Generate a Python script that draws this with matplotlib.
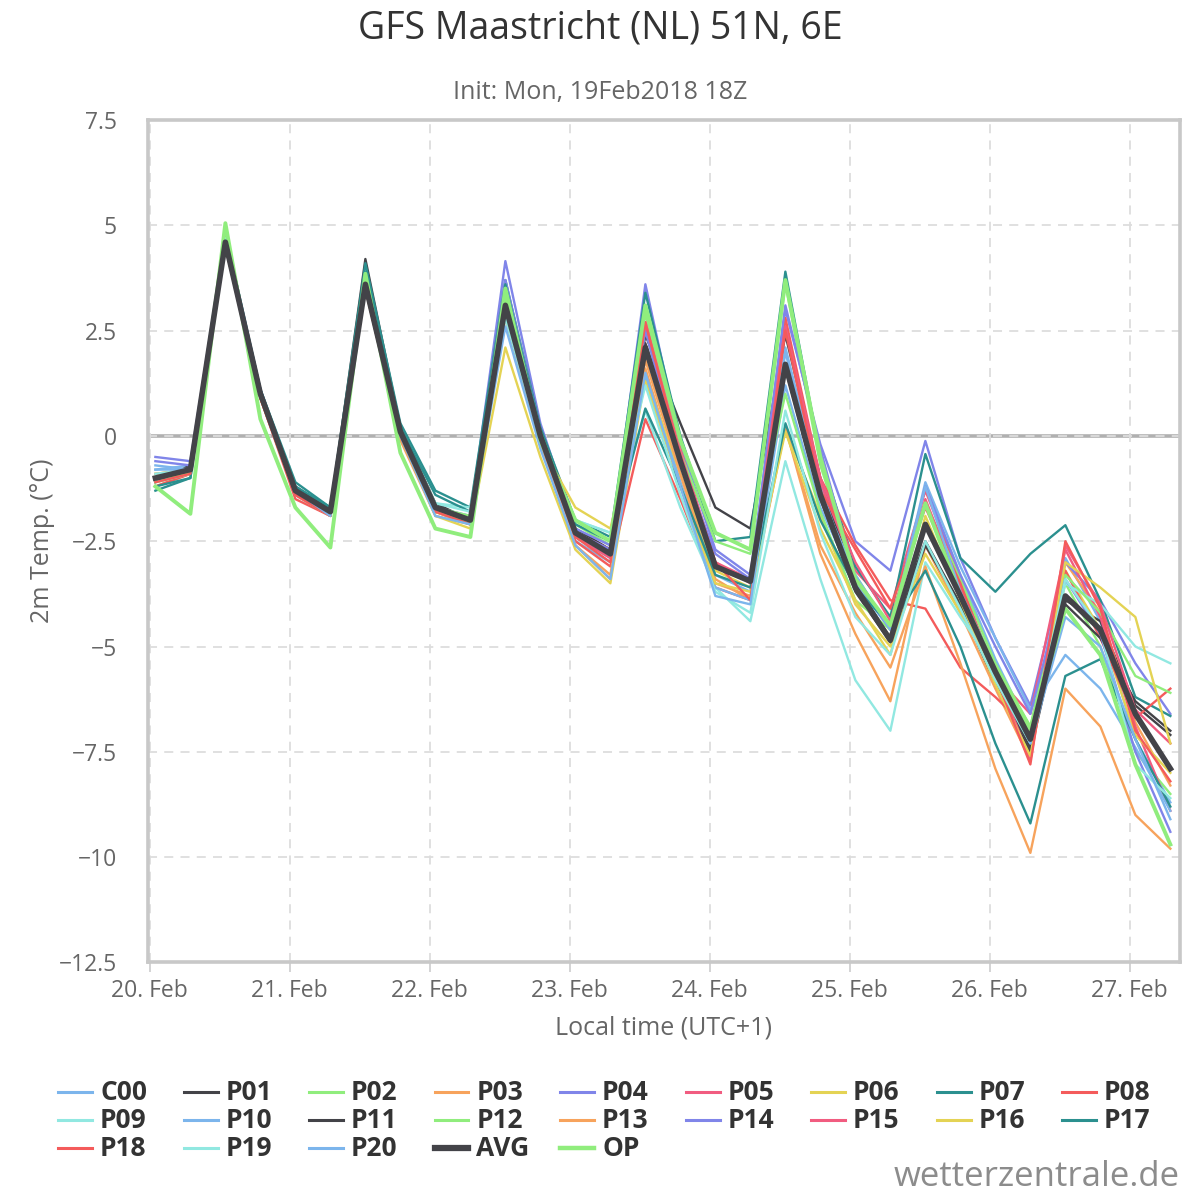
import matplotlib
matplotlib.use("Agg")
import matplotlib.pyplot as plt
import matplotlib.dates as mdates
from matplotlib.lines import Line2D
from matplotlib.ticker import FuncFormatter, MultipleLocator
import pandas as pd

plt.rcParams["font.family"] = ["Open Sans", "DejaVu Sans"]

# 6-hourly steps, local time (UTC+1)
times = pd.date_range("2018-02-20 01:00", periods=30, freq="6h")

members = ["C00", "P01", "P02", "P03", "P04", "P05", "P06", "P07", "P08", "P09", "P10",
           "P11", "P12", "P13", "P14", "P15", "P16", "P17", "P18", "P19", "P20"]

palette = ["#7cb5ec", "#434348", "#90ed7d", "#f7a35c", "#8085e9",
           "#f15c80", "#e4d354", "#2b908f", "#f45b5b", "#91e8e1"]

C00 = [-0.8, -0.7, 4.8, 1.1, -1.4, -1.9, 3.7, 0.0, -1.8, -2.1, 3.2, -0.1, -2.5, -3.0, 2.0, -0.9, -3.3, -3.7, 2.1, -1.2, -3.4, -4.6, -1.2, -3.3, -5.3, -7.0, -2.9, -4.4, -7.2, -8.7]
P01 = [-1.1, -0.7, 4.5, 1.0, -1.2, -1.75, 4.2, 0.2, -1.6, -2.0, 3.0, 0.1, -2.2, -2.7, 2.4, 0.3, -1.7, -2.2, 2.4, -1.0, -3.5, -4.8, -2.5, -4.0, -5.9, -7.5, -3.9, -4.4, -6.4, -7.1]
P02 = [-1.0, -0.9, 4.9, 0.9, -1.3, -1.8, 3.8, 0.0, -1.7, -2.0, 3.4, 0.1, -2.1, -2.6, 3.0, -0.2, -2.3, -2.7, 3.6, -0.7, -3.3, -4.6, -1.6, -3.6, -5.5, -6.9, -3.5, -5.0, -7.5, -8.5]
P03 = [-1.2, -0.9, 4.6, 0.9, -1.4, -1.9, 3.6, -0.1, -1.9, -2.1, 2.9, -0.2, -2.6, -3.4, 1.6, -1.1, -3.4, -3.9, 0.2, -2.8, -4.7, -6.3, -2.6, -4.2, -6.0, -7.7, -3.0, -4.2, -6.8, -8.3]
P04 = [-0.5, -0.6, 4.7, 1.1, -1.3, -1.8, 3.7, 0.2, -1.7, -1.9, 4.15, 0.3, -2.2, -2.6, 3.6, -0.2, -2.7, -3.3, 3.0, -0.2, -2.5, -3.2, -0.12, -2.9, -4.8, -6.4, -3.0, -3.9, -5.4, -6.6]
P05 = [-1.0, -0.8, 4.6, 1.0, -1.3, -1.8, 3.6, 0.1, -1.8, -2.0, 3.2, 0.0, -2.3, -2.7, 2.6, -0.3, -3.0, -3.4, 2.6, -1.1, -3.2, -4.1, -1.3, -3.4, -5.7, -6.6, -2.7, -4.3, -6.9, -8.9]
P06 = [-0.9, -0.8, 4.6, 1.0, -1.3, -1.9, 3.5, 0.0, -1.9, -2.2, 2.1, -0.5, -2.7, -3.5, 1.4, -0.9, -3.2, -3.6, 0.2, -1.9, -4.0, -5.0, -2.8, -4.2, -5.6, -7.1, -3.2, -4.6, -7.1, -8.0]
P07 = [-1.3, -1.0, 4.8, 1.1, -1.1, -1.7, 4.1, 0.3, -1.3, -1.7, 3.7, 0.2, -2.0, -2.4, 3.4, 0.0, -2.5, -2.4, 3.9, -0.5, -3.1, -4.3, -0.43, -2.9, -3.7, -2.8, -2.12, -3.9, -6.2, -6.65]
P08 = [-1.2, -0.9, 4.5, 0.9, -1.5, -1.9, 3.5, 0.0, -1.8, -2.1, 3.0, -0.1, -2.5, -3.1, 0.4, -1.5, -3.6, -3.9, 2.8, -1.0, -2.6, -3.9, -4.1, -5.5, -6.2, -7.0, -3.2, -4.8, -6.7, -6.0]
P09 = [-1.1, -0.9, 4.7, 1.0, -1.3, -1.8, 3.7, 0.1, -1.6, -1.7, 2.9, 0.0, -2.0, -2.3, 0.6, -1.7, -3.6, -4.4, -0.6, -3.4, -5.8, -7.0, -3.0, -4.3, -5.5, -7.0, -3.5, -4.0, -5.0, -5.4]
P10 = [-0.7, -0.8, 4.6, 1.0, -1.4, -1.9, 3.6, 0.0, -1.8, -2.0, 3.3, 0.0, -2.4, -2.9, 1.4, -1.1, -3.6, -3.9, 1.2, -1.7, -3.5, -4.6, -1.1, -3.1, -4.8, -6.5, -5.2, -6.0, -7.4, -8.9]
P11 = [-1.0, -0.8, 4.6, 1.0, -1.3, -1.8, 3.6, 0.1, -1.7, -2.0, 3.1, 0.0, -2.3, -2.8, 2.2, -0.5, -3.1, -3.4, 1.6, -1.5, -3.7, -4.9, -2.6, -4.0, -5.8, -7.4, -4.0, -4.8, -6.3, -7.0]
P12 = [-1.1, -0.9, 4.7, 1.0, -1.3, -1.8, 3.7, 0.1, -1.7, -1.9, 3.3, 0.1, -2.1, -2.5, 2.9, -0.4, -2.5, -2.8, 1.0, -1.8, -3.9, -4.6, -1.6, -3.4, -5.4, -6.9, -3.3, -4.2, -5.7, -6.1]
P13 = [-0.9, -0.8, 4.6, 0.9, -1.4, -1.9, 3.5, 0.0, -1.8, -2.1, 2.8, -0.2, -2.6, -3.3, 1.8, -0.9, -3.5, -3.8, 0.2, -2.6, -4.2, -5.5, -3.1, -5.4, -7.9, -9.9, -6.0, -6.9, -9.0, -9.8]
P14 = [-0.6, -0.7, 4.7, 1.1, -1.3, -1.8, 3.7, 0.1, -1.7, -2.0, 3.7, 0.1, -2.3, -2.7, 2.5, -0.6, -2.8, -3.4, 3.1, -0.3, -3.4, -4.6, -1.2, -3.3, -5.0, -6.6, -3.4, -4.7, -7.5, -9.4]
P15 = [-1.0, -0.8, 4.5, 1.0, -1.4, -1.8, 3.6, 0.0, -1.8, -2.0, 3.0, -0.1, -2.4, -2.9, 2.7, -0.4, -3.0, -3.5, 2.6, -1.0, -3.0, -4.4, -1.5, -3.6, -5.6, -7.7, -2.6, -4.0, -6.5, -7.3]
P16 = [-1.0, -0.9, 4.6, 1.0, -1.3, -1.8, 3.6, 0.0, -1.8, -2.1, 3.0, -0.2, -1.7, -2.2, 1.3, -1.2, -3.5, -3.7, 0.1, -2.2, -3.9, -5.2, -1.9, -3.9, -5.9, -7.6, -3.0, -3.6, -4.3, -7.3]
P17 = [-1.2, -1.0, 4.7, 1.1, -1.2, -1.7, 3.9, 0.2, -1.4, -1.8, 3.6, 0.1, -2.1, -2.5, 0.65, -1.2, -3.3, -3.6, 0.3, -2.0, -3.6, -4.5, -3.2, -5.0, -7.3, -9.2, -5.7, -5.3, -7.2, -8.8]
P18 = [-1.1, -0.9, 4.6, 0.9, -1.4, -1.9, 3.5, 0.0, -1.8, -2.1, 3.0, -0.1, -2.4, -3.0, 2.7, -0.5, -3.0, -3.9, 2.5, -1.3, -2.7, -4.1, -1.7, -3.5, -5.7, -7.8, -2.5, -4.1, -7.0, -8.2]
P19 = [-0.9, -0.8, 4.7, 1.0, -1.3, -1.8, 3.6, 0.1, -1.6, -1.8, 2.8, -0.1, -2.0, -2.3, 1.2, -1.4, -3.7, -4.2, 0.6, -2.3, -4.3, -5.2, -2.5, -4.1, -5.8, -7.3, -3.4, -4.6, -7.8, -8.6]
P20 = [-0.8, -0.8, 4.6, 1.0, -1.3, -1.9, 3.6, 0.0, -1.9, -2.1, 2.6, -0.3, -2.6, -3.4, 1.5, -1.2, -3.8, -4.0, 2.0, -1.4, -3.3, -4.6, -1.2, -3.7, -5.5, -7.3, -4.3, -5.0, -7.2, -9.1]
AVG = [-1.0, -0.8, 4.6, 1.0, -1.3, -1.8, 3.6, 0.1, -1.7, -2.0, 3.1, 0.0, -2.3, -2.8, 2.1, -0.6, -3.1, -3.45, 1.7, -1.4, -3.6, -4.85, -2.1, -3.8, -5.6, -7.2, -3.8, -4.6, -6.6, -7.9]
OP = [-1.2, -1.85, 5.05, 0.4, -1.7, -2.65, 3.85, -0.4, -2.2, -2.4, 3.5, -0.1, -2.0, -2.5, 3.1, -0.1, -2.3, -2.7, 3.7, -0.5, -3.4, -4.5, -1.6, -3.8, -5.5, -7.0, -4.1, -5.2, -7.8, -9.7]

member_values = [C00, P01, P02, P03, P04, P05, P06, P07, P08, P09, P10,
                 P11, P12, P13, P14, P15, P16, P17, P18, P19, P20]

fig = plt.figure(figsize=(12, 12), dpi=100)
ax = fig.add_axes([0.123, 0.198, 0.860, 0.702])

ax.axhline(0, color="#b0b0b0", lw=2.6, zorder=1)

styles = {}
for i, (name, vals) in enumerate(zip(members, member_values)):
    ax.plot(times, vals, color=palette[i % 10], lw=1.7, zorder=3)
    styles[name] = (palette[i % 10], 2.2)
ax.plot(times, AVG, color="#434348", lw=4.0, zorder=5)
ax.plot(times, OP, color="#90ed7d", lw=2.8, zorder=4)
styles["AVG"] = ("#434348", 4.5)
styles["OP"] = ("#90ed7d", 3.2)

ax.set_ylim(-12.5, 7.5)
ax.set_xlim(pd.Timestamp("2018-02-19 23:40"), pd.Timestamp("2018-02-27 08:35"))
ax.yaxis.set_major_locator(MultipleLocator(2.5))
ax.yaxis.set_major_formatter(FuncFormatter(lambda v, p: f"{v:g}".replace("-", "\u2212")))
ax.xaxis.set_major_locator(mdates.DayLocator())
ax.xaxis.set_major_formatter(mdates.DateFormatter("%d. %b"))

ax.grid(True, color="#dddddd", lw=1.3, ls=(0, (5, 4)), zorder=0)
ax.tick_params(axis="y", length=0, labelsize=16.5, labelcolor="#666666", pad=22)
ax.tick_params(axis="x", length=7, width=1.2, color="#cccccd", labelsize=16.5,
               labelcolor="#666666", pad=5)
for s in ax.spines.values():
    s.set_color("#c8c8c8")
    s.set_linewidth(2.6)

ax.set_ylabel("2m Temp. (°C)", fontsize=18, color="#666666", labelpad=3)
ax.set_xlabel("Local time (UTC+1)", fontsize=18, color="#666666", labelpad=9)

fig.text(0.5, 0.976, "GFS Maastricht (NL) 51N, 6E", ha="center", va="center",
         fontsize=27, color="#333333")
fig.text(0.5, 0.923, "Init: Mon, 19Feb2018 18Z", ha="center", va="center",
         fontsize=18, color="#666666")
fig.text(0.983, 0.019, "wetterzentrale.de", ha="right", va="center",
         fontsize=25, color="#8c8c8c")

# legend drawn by hand, row by row, 9 columns
order = members + ["AVG", "OP"]
for k, name in enumerate(order):
    r, c = divmod(k, 9)
    x0 = (58 + 125.5 * c) / 1200
    y0 = 1 - (1092 + 28 * r) / 1200
    col, lw = styles[name]
    fig.add_artist(Line2D([x0, x0 + 34 / 1200], [y0, y0], color=col, lw=lw,
                          transform=fig.transFigure))
    fig.text(x0 + 42 / 1200, y0, name, ha="left", va="center", fontsize=19,
             fontweight="bold", color="#333333")

fig.savefig("out.png", dpi=100)
